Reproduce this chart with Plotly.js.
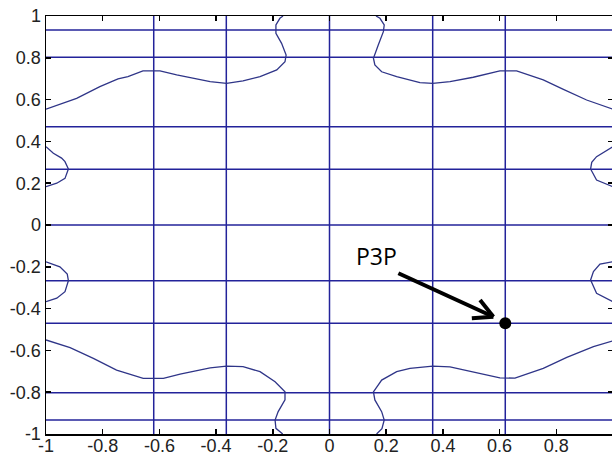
<!DOCTYPE html>
<html>
<head>
<meta charset="utf-8">
<script src="https://cdn.plot.ly/plotly-3.0.1.min.js"></script>
<style>
html,body{margin:0;padding:0;overflow:hidden;background:#fff;}
#chart{width:614px;height:456px;}
</style>
</head>
<body>
<div id="chart"></div>
<script>
// ---- data ----
const tickVals = [-1, -0.8, -0.6, -0.4, -0.2, 0, 0.2, 0.4, 0.6, 0.8, 1];
const tickText = ["-1", "-0.8", "-0.6", "-0.4", "-0.2", "0", "0.2", "0.4", "0.6", "0.8", "1"];

// straight contour lines
const vLineX = [-0.62, -0.364, 0, 0.364, 0.62];
const hLineY = [0.933, 0.803, 0.47, 0.267, 0, -0.267, -0.47, -0.803, -0.933];

// curved contour pieces
const topLeftX  = [-1, -0.892, -0.81, -0.746, -0.711, -0.658, -0.598, -0.539, -0.421, -0.363, -0.305, -0.245, -0.186, -0.157, -0.153, -0.169, -0.189, -0.189, -0.175, -0.164];
const topLeftY  = [0.554, 0.606, 0.662, 0.699, 0.71, 0.737, 0.737, 0.718, 0.686, 0.678, 0.69, 0.71, 0.742, 0.781, 0.813, 0.869, 0.917, 0.957, 0.989, 1.0];
const topRightX = [0.164, 0.178, 0.193, 0.190, 0.172, 0.155, 0.160, 0.184, 0.237, 0.284, 0.319, 0.364, 0.425, 0.507, 0.601, 0.660, 0.754, 0.825, 0.907, 1.0];
const topRightY = [1.0, 0.989, 0.957, 0.925, 0.861, 0.798, 0.766, 0.733, 0.710, 0.694, 0.681, 0.678, 0.686, 0.707, 0.737, 0.737, 0.694, 0.649, 0.598, 0.554];
const botLeftX  = [-1, -0.915, -0.833, -0.751, -0.657, -0.586, -0.527, -0.421, -0.363, -0.305, -0.245, -0.192, -0.157, -0.157, -0.181, -0.192, -0.189, -0.169, -0.165];
const botLeftY  = [-0.550, -0.587, -0.638, -0.694, -0.734, -0.734, -0.713, -0.684, -0.675, -0.678, -0.702, -0.750, -0.798, -0.837, -0.893, -0.933, -0.973, -0.997, -1.0];
const botRightX = [0.166, 0.185, 0.193, 0.184, 0.160, 0.155, 0.184, 0.237, 0.284, 0.364, 0.425, 0.507, 0.601, 0.654, 0.754, 0.837, 0.931, 1.0];
const botRightY = [-1.0, -0.975, -0.933, -0.893, -0.837, -0.798, -0.742, -0.702, -0.686, -0.675, -0.679, -0.703, -0.731, -0.733, -0.686, -0.633, -0.582, -0.554];
const leftUpX   = [-1, -0.974, -0.945, -0.933, -0.921, -0.933, -0.962, -1.0];
const leftUpY   = [0.375, 0.343, 0.320, 0.303, 0.268, 0.223, 0.200, 0.183];
const leftLowX  = [-1, -0.951, -0.925, -0.921, -0.933, -0.962, -1.0];
const leftLowY  = [-0.176, -0.200, -0.235, -0.266, -0.319, -0.350, -0.367];
const rightUpX  = [1.0, 0.942, 0.925, 0.921, 0.942, 0.989, 1.0];
const rightUpY  = [0.375, 0.327, 0.300, 0.268, 0.215, 0.191, 0.183];
const rightLowX = [1.0, 0.954, 0.931, 0.921, 0.942, 0.989, 1.0];
const rightLowY = [-0.176, -0.187, -0.223, -0.263, -0.327, -0.359, -0.367];

// highlighted point
const pointX = [0.62];
const pointY = [-0.47];
const pointLabel = "P3P";

// ---- build traces ----
const gridColor = "#23239a";
const curveColor = "#2f3588";

const vx = [], vy = [];
vLineX.forEach(x => { vx.push(x, x, null); vy.push(-1, 1, null); });
const hx = [], hy = [];
hLineY.forEach(y => { hx.push(-1, 1, null); hy.push(y, y, null); });

const lineTrace = (x, y, color, w) => ({
  x, y, type: "scatter", mode: "lines", hoverinfo: "skip",
  line: {color, width: w}, showlegend: false, cliponaxis: true
});

const curves = [
  [topLeftX, topLeftY], [topRightX, topRightY],
  [botLeftX, botLeftY], [botRightX, botRightY],
  [leftUpX, leftUpY], [leftLowX, leftLowY],
  [rightUpX, rightUpY], [rightLowX, rightLowY]
];

const data = [
  lineTrace(vx, vy, gridColor, 1.5),
  lineTrace(hx, hy, gridColor, 1.5),
  ...curves.map(c => lineTrace(c[0], c[1], curveColor, 1.3)),
  {x: pointX, y: pointY, type: "scatter", mode: "markers",
   marker: {color: "#000", size: 12}, showlegend: false}
];

const axisCommon = {
  range: [-1, 1], tickvals: tickVals, ticktext: tickText,
  showgrid: false, zeroline: false, showline: true, mirror: "ticks",
  linecolor: "#000", linewidth: 1.5, ticks: "inside", ticklen: 5,
  tickwidth: 1.5, tickcolor: "#000",
  tickfont: {family: "Liberation Sans, Arial, sans-serif", size: 18, color: "#222"}
};

// arrow (tail near label, head at the point)
const arrowTail = [0.243, -0.231];
const arrowHead = [0.578, -0.439];
const barbA = [0.531, -0.359];
const barbB = [0.502, -0.446];

const layout = {
  width: 614, height: 456,
  margin: {l: 46, r: 1, t: 16, b: 22, pad: 0},
  paper_bgcolor: "#fff", plot_bgcolor: "#fff",
  xaxis: Object.assign({}, axisCommon, {ticklabelstandoff: -5}),
  yaxis: Object.assign({}, axisCommon, {ticklabelstandoff: 0}),
  showlegend: false,
  shapes: [
    {type: "line", xref: "x", yref: "y", x0: arrowTail[0], y0: arrowTail[1], x1: arrowHead[0], y1: arrowHead[1], line: {color: "#000", width: 4}},
    {type: "line", xref: "x", yref: "y", x0: barbA[0], y0: barbA[1], x1: arrowHead[0], y1: arrowHead[1], line: {color: "#000", width: 4}},
    {type: "line", xref: "x", yref: "y", x0: barbB[0], y0: barbB[1], x1: arrowHead[0], y1: arrowHead[1], line: {color: "#000", width: 4}}
  ],
  annotations: [
    {x: 0.166, y: -0.148, xref: "x", yref: "y", text: pointLabel, showarrow: false,
     font: {family: "Open Sans, sans-serif", size: 23, color: "#000"}}
  ]
};

Plotly.newPlot("chart", data, layout, {staticPlot: true, displayModeBar: false});
</script>
</body>
</html>
